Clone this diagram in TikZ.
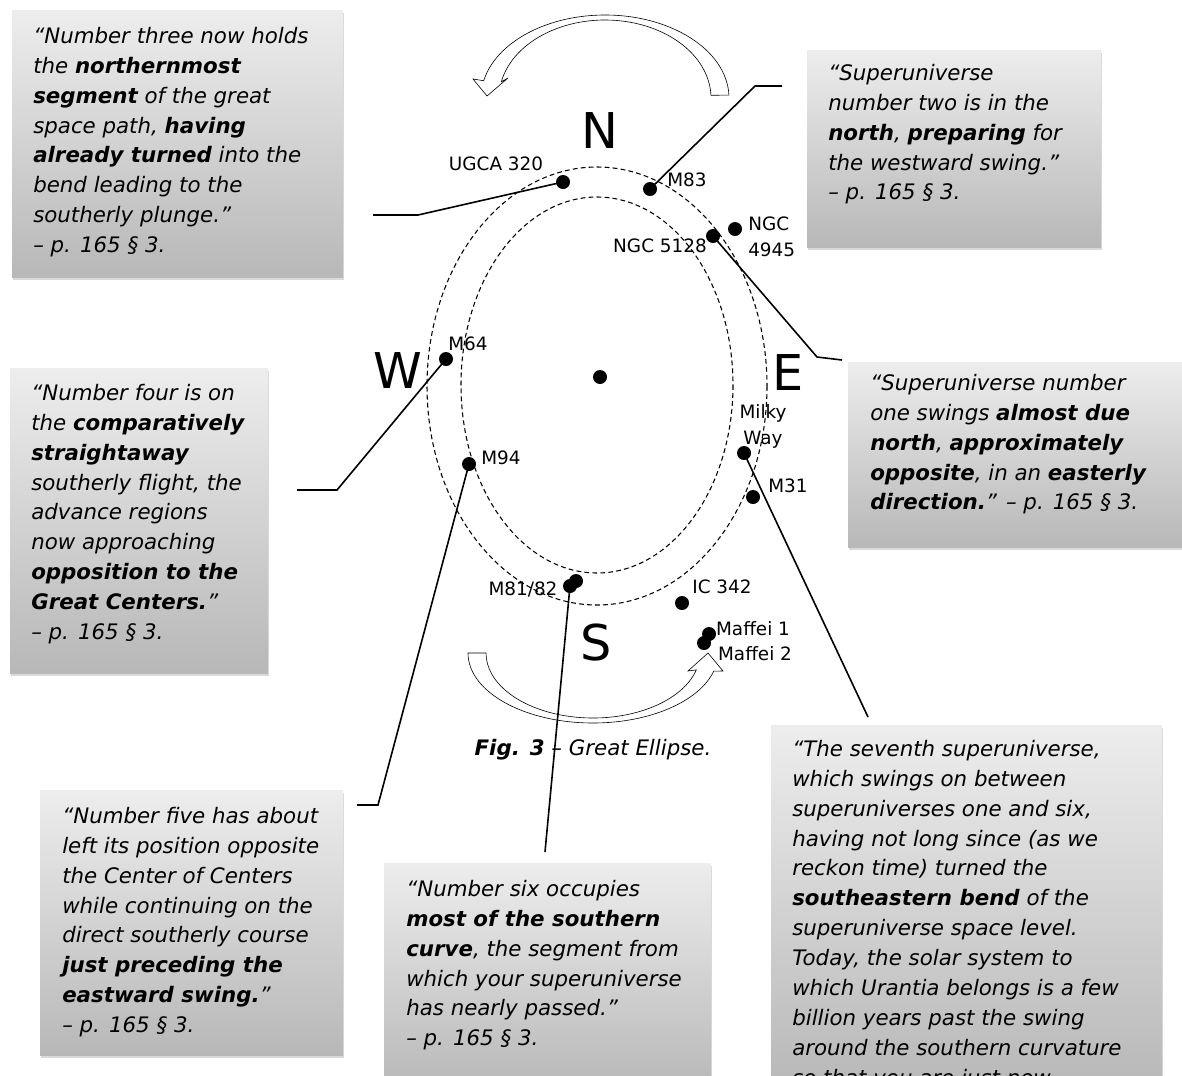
\documentclass[tikz,border=0pt]{standalone}
\usepackage{fontspec}
\setmainfont{DejaVu Sans}
\usetikzlibrary{shadows}

\begin{document}
\begin{tikzpicture}[x=0.75pt, y=-0.75pt,
    galaxy/.style={circle, fill=black, inner sep=0pt, minimum size=10.5pt},
    galaxylabel/.style={inner sep=0pt, font=\fontsize{13.8}{19.5}\selectfont},
    compasslabel/.style={inner sep=0pt, font=\fontsize{37}{40}\selectfont},
    orbit/.style={line width=0.8pt, dash pattern=on 3.6pt off 2.4pt},
    swing/.style={draw=black, fill=white, line width=0.45pt},
    leader/.style={line width=1.2pt},
    quotebox/.style={top color=black!7, bottom color=black!28,
        drop shadow={shadow xshift=1pt, shadow yshift=-2.5pt, opacity=0.3}},
    quotetext/.style={anchor=north west, inner sep=0pt, align=left,
        font=\fontsize{16}{22.4}\selectfont\itshape}]

    \useasboundingbox (0,0) rectangle (1182,1075);
    \clip (0,0) rectangle (1182,1075);

    % Quote boxes
    \path[quotebox] (12,10) rectangle (343,277);
    \path[quotebox] (807,50) rectangle (1101,247);
    \path[quotebox] (10,368) rectangle (268,673);
    \path[quotebox] (848,362) rectangle (1190,547);
    \path[quotebox] (40,790) rectangle (343,1055);
    \path[quotebox] (384,863) rectangle (711,1090);
    \path[quotebox] (771,725) rectangle (1162,1090);

    % Great ellipse: outer and inner orbit
    \draw[orbit] (597,386) ellipse [x radius=170, y radius=219];
    \draw[orbit] (597,385) ellipse [x radius=136, y radius=188];

    % Swing arrows, over the top (westward) and under the bottom (eastward)
    \draw[swing] ([shift={(605,98)}]-2:124 and 83)
        arc[start angle=-2, end angle=-168, x radius=124, y radius=83]
        -- (473,79) -- (487,96) -- (508,78)
        -- ([shift={(605,98)}]-168:106 and 78)
        arc[start angle=-168, end angle=-2, x radius=106, y radius=78] -- cycle;
    \draw[swing] (468,653)
        arc[start angle=180, end angle=15, x radius=125, y radius=70]
        -- (723,671) -- (708,653) -- (688,671)
        -- ([shift={(593,653)}]15:107 and 65)
        arc[start angle=15, end angle=180, x radius=107, y radius=65] -- cycle;

    % Centre of the ellipse and the galaxies
    \node[galaxy] (centre) at (600,377) {};
    \node[galaxy] (ugca) at (563,182) {};
    \node[galaxy] (m83) at (650,189) {};
    \node[galaxy] (ngc5128) at (713,236) {};
    \node[galaxy] (ngc4945) at (735,229) {};
    \node[galaxy] (m64) at (446,359) {};
    \node[galaxy] (m94) at (469,464) {};
    \node[galaxy] (milkyway) at (744,453) {};
    \node[galaxy] (m31) at (753,497) {};
    \node[galaxy] (m81) at (570,586) {};
    \node[galaxy] (m82) at (576,581) {};
    \node[galaxy] (ic342) at (682,603) {};
    \node[galaxy] (maffeione) at (709,634) {};
    \node[galaxy] (maffeitwo) at (704,643) {};

    % Leaders from the galaxies out to the quotes
    \coordinate (ugcabend) at (418,215);
    \coordinate (ugcaend) at (373,215);
    \coordinate (m83bend) at (755,86);
    \coordinate (m83end) at (782,86);
    \coordinate (ngcbend) at (817,357);
    \coordinate (ngcend) at (842,360);
    \coordinate (m64bend) at (337,490);
    \coordinate (m64end) at (297,490);
    \coordinate (m94bend) at (378,805);
    \coordinate (m94end) at (357,805);
    \coordinate (m81end) at (545,852);
    \coordinate (milkyend) at (868,717);
    \draw[leader] (ugca.center) -- (ugcabend) -- (ugcaend);
    \draw[leader] (m83.center) -- (m83bend) -- (m83end);
    \draw[leader] (ngc5128.center) -- (ngcbend) -- (ngcend);
    \draw[leader] (m64.center) -- (m64bend) -- (m64end);
    \draw[leader] (m94.center) -- (m94bend) -- (m94end);
    \draw[leader] (m81.center) -- (m81end);
    \draw[leader] (milkyway.center) -- (milkyend);

    % Galaxy names
    \node[galaxylabel, anchor=base] (ugcalabel) at (496,170) {UGCA 320};
    \node[galaxylabel, anchor=base] (m83label) at (687,186) {M83};
    \node[galaxylabel, anchor=base] (ngc5128label) at (660,252) {NGC 5128};
    \node[galaxylabel, anchor=north west, align=left] (ngc4945label) at (748,217) {NGC\\4945};
    \node[galaxylabel, anchor=base] (m64label) at (468,350) {M64};
    \node[galaxylabel, anchor=base] (m94label) at (501,464) {M94};
    \node[galaxylabel, anchor=north, align=center] (milkywaylabel) at (763,404) {Milky\\Way};
    \node[galaxylabel, anchor=base] (m31label) at (788,492) {M31};
    \node[galaxylabel, anchor=base] (m81label) at (523,595) {M81/82};
    \node[galaxylabel, anchor=base] (ic342label) at (722,593) {IC 342};
    \node[galaxylabel, anchor=base] (maffeionelabel) at (753,635) {Maffei 1};
    \node[galaxylabel, anchor=base] (maffeitwolabel) at (755,660) {Maffei 2};

    % Compass points
    \node[compasslabel, anchor=base] (north) at (600,148) {N};
    \node[compasslabel, anchor=base] (west) at (398,388) {W};
    \node[compasslabel, anchor=base] (east) at (788,390) {E};
    \node[compasslabel, anchor=base] (south) at (596,660) {S};

    \node[anchor=base, inner sep=0pt, font=\fontsize{16}{20}\selectfont\itshape] (caption)
        at (593,755) {\textbf{Fig. 3} – Great Ellipse.};

    % Quotes
    \node[quotetext] (three) at (33,27) {“Number three now holds\\the \textbf{northernmost}\\\textbf{segment} of the great\\space path, \textbf{having}\\\textbf{already turned} into the\\bend leading to the\\southerly plunge.”\\– p. 165 § 3.};
    \node[quotetext] (two) at (828,64) {“Superuniverse\\number two is in the\\\textbf{north}, \textbf{preparing} for\\the westward swing.”\\– p. 165 § 3.};
    \node[quotetext] (four) at (31,384) {“Number four is on\\the \textbf{comparatively}\\\textbf{straightaway}\\southerly flight, the\\advance regions\\now approaching\\\textbf{opposition to the}\\\textbf{Great Centers.}”\\– p. 165 § 3.};
    \node[quotetext] (one) at (870,374) {“Superuniverse number\\one swings \textbf{almost due}\\\textbf{north}, \textbf{approximately}\\\textbf{opposite}, in an \textbf{easterly}\\\textbf{direction.}” – p. 165 § 3.};
    \node[quotetext] (five) at (62,807) {“Number five has about\\left its position opposite\\the Center of Centers\\while continuing on the\\direct southerly course\\\textbf{just preceding the}\\\textbf{eastward swing.}”\\– p. 165 § 3.};
    \node[quotetext] (six) at (406,880) {“Number six occupies\\\textbf{most of the southern}\\\textbf{curve}, the segment from\\which your superuniverse\\has nearly passed.”\\– p. 165 § 3.};
    \node[quotetext] (seven) at (792,740) {“The seventh superuniverse,\\which swings on between\\superuniverses one and six,\\having not long since (as we\\reckon time) turned the\\\textbf{southeastern bend} of the\\superuniverse space level.\\Today, the solar system to\\which Urantia belongs is a few\\billion years past the swing\\around the southern curvature\\so that you are just now};

\end{tikzpicture}
\end{document}
